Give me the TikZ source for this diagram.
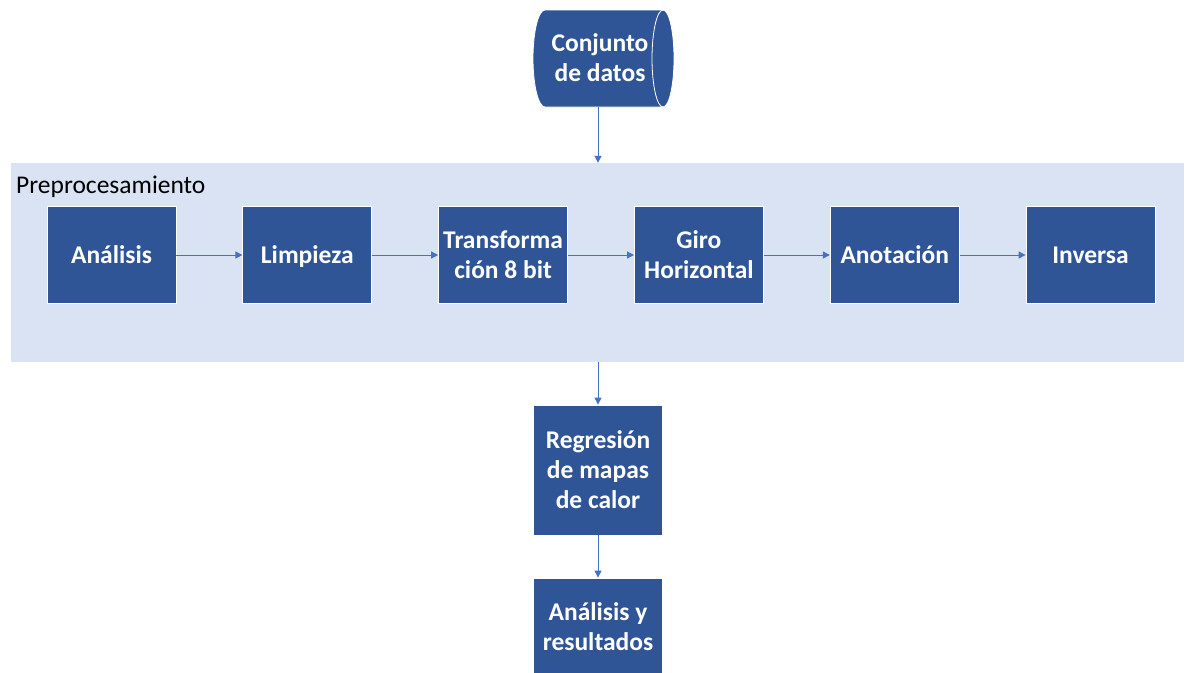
\documentclass[tikz,border=0pt]{standalone}
\usepackage{fontspec}
\setmainfont{Carlito}
\usetikzlibrary{arrows.meta}
\definecolor{boxblue}{RGB}{47,85,151}
\definecolor{panelblue}{RGB}{218,227,243}
\definecolor{arrowblue}{RGB}{68,114,196}
\begin{document}
\begin{tikzpicture}[x=1pt,y=-1pt,
  lbl/.style={font=\fontsize{25.5}{30}\selectfont\bfseries, text=white, align=center, inner sep=0pt, text height=16pt, text depth=0pt},
  twolines/.style={text height=46pt},
  threelines/.style={text height=76pt},
  proc/.style={lbl, rectangle, fill=boxblue, draw=white, line width=0.8pt, minimum width=129pt, minimum height=97pt},
  panel/.style={rectangle, fill=panelblue, draw=none, inner sep=0pt},
  conn/.style={draw=arrowblue, line width=1pt, -{Triangle[length=7pt,width=7pt]}}]
\useasboundingbox (0,0) rectangle (1190,672);
\clip (0,0) rectangle (1190,672);
\fill[white] (0,0) rectangle (1190,672);
% panel
\node[panel, minimum width=1173pt, minimum height=199pt] (pre) at (597,262.5) {};
\node[anchor=base west, inner sep=0pt, font=\fontsize{25.5}{30}\selectfont] (title) at (16,193) {Preprocesamiento};
% cylinder (data store)
\filldraw[fill=boxblue, draw=white, line width=0.8pt] (545,10) -- (663,10)
  arc[start angle=-90, end angle=90, x radius=11, y radius=48.5]
  -- (545,107)
  arc[start angle=90, end angle=270, x radius=12, y radius=48.5] -- cycle;
\draw[white, line width=0.8pt] (663,10) arc[start angle=-90, end angle=-270, x radius=11, y radius=48.5];
\node[lbl, twolines] (data) at (600,58.5) {Conjunto\\de datos};
\coordinate (datab) at (598,107);
% process boxes
\node[proc] (a1) at (111.5,255) {Análisis};
\node[proc] (a2) at (307.3,255) {Limpieza};
\node[proc, twolines] (a3) at (503.1,255) {Transforma\\ción 8 bit};
\node[proc, twolines] (a4) at (698.9,255) {Giro\\Horizontal};
\node[proc] (a5) at (894.7,255) {Anotación};
\node[proc] (a6) at (1090.5,255) {Inversa};
\node[proc, threelines, minimum height=130pt] (reg) at (598,470) {Regresión\\de mapas\\de calor};
\node[proc, twolines, minimum height=98pt] (res) at (598,627) {Análisis y\\resultados};
% connectors
\draw[conn] (datab) -- (datab |- pre.north);
\draw[conn] (a1) -- (a2);
\draw[conn] (a2) -- (a3);
\draw[conn] (a3) -- (a4);
\draw[conn] (a4) -- (a5);
\draw[conn] (a5) -- (a6);
\draw[conn] (pre.south -| reg.north) -- (reg.north);
\draw[conn] (reg) -- (res);
\end{tikzpicture}
\end{document}
